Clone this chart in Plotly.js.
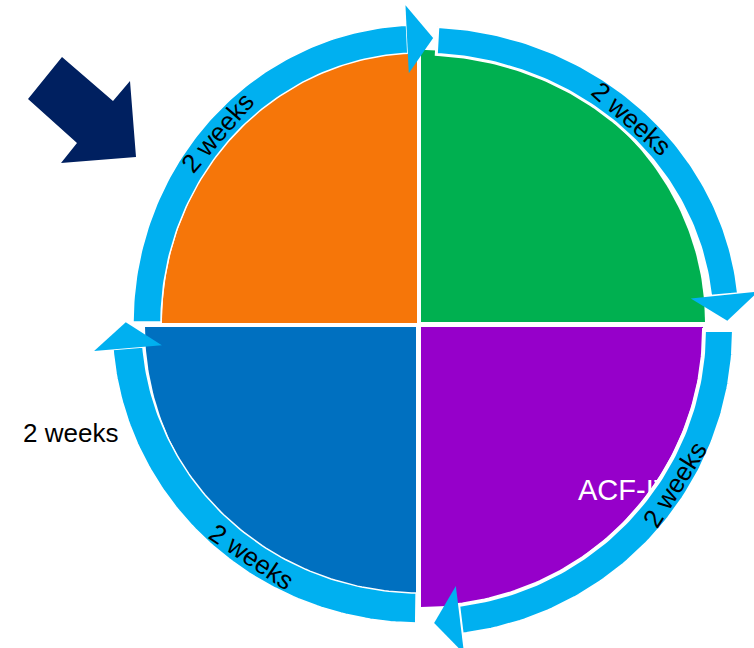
<!DOCTYPE html>
<html>
<head>
<meta charset="utf-8">
<script src="https://cdn.plot.ly/plotly-3.0.1.min.js"></script>
<style>html,body{margin:0;padding:0;background:#fff;}#chart{width:754px;height:648px;}</style>
</head>
<body>
<div id="chart"></div>
<script>
// ---------- data ----------
const phaseNames = ['Phase 1', 'Phase 2', 'Phase 3', 'Phase 4'];
const durationWeeks = [2, 2, 2, 2];
const durationLabels = durationWeeks.map(w => w + ' weeks');
const sideLabel = '2 weeks';
const innerLabel = 'ACF-IT';

// ---------- styles ----------
const quadColors = ['#F67609', '#00B050', '#9600CA', '#0070C0'];
const ringColor = '#00B0F0';
const navy = '#002060';
const FONT = 'Liberation Sans, Arial, sans-serif';

// ---------- geometry (pixel space, y down; angles clockwise from +x) ----------
const startAngle = 180;
const quadGeom = [
  {cx: 417, cy: 323, rx: 255, ry: 271},
  {cx: 421, cy: 322, rx: 284, ry: 272},
  {cx: 421, cy: 327, rx: 282, ry: 280},
  {cx: 416, cy: 327, rx: 271, ry: 271}
];
const ringGeom = [
  {cx: 420, cy: 323, rx: 273, ry: 284, hw: 14, gapStart: 0.2, gapEnd: 2.7, textAt: 0.48, outline: 1.5},
  {cx: 420, cy: 322, rx: 306, ry: 282, hw: 14, gapStart: 3.2, gapEnd: 5.5, textAt: 0.5, outline: 3},
  {cx: 424, cy: 330, rx: 295, ry: 292, hw: 15, gapStart: 0.0, gapEnd: 7.0, textAt: 0.385, outline: 4},
  {cx: 420, cy: 325, rx: 293, ry: 283, hw: 15, gapStart: 0.8, gapEnd: 4.7, textAt: 0.405, outline: 1.5}
];
const headHalf = 34, headLen = 26;

const rad = d => d * Math.PI / 180;
function arc(cx, cy, rx, ry, t0, t1, n) {
  const xs = [], ys = [];
  for (let i = 0; i <= n; i++) {
    const t = rad(t0 + (t1 - t0) * i / n);
    xs.push(cx + rx * Math.cos(t));
    ys.push(cy + ry * Math.sin(t));
  }
  return [xs, ys];
}

const total = durationWeeks.reduce((a, b) => a + b, 0);
const spans = [];
let acc = startAngle;
durationWeeks.forEach(w => { const s = w / total * 360; spans.push([acc, acc + s]); acc += s; });

const traces = [];
// quadrants
spans.forEach((sp, i) => {
  const g = quadGeom[i];
  const [xs, ys] = arc(g.cx, g.cy, g.rx, g.ry, sp[0], sp[1], 90);
  traces.push({
    type: 'scatter', mode: 'lines', x: [g.cx, ...xs, g.cx], y: [g.cy, ...ys, g.cy],
    fill: 'toself', fillcolor: quadColors[i], line: {width: 0, color: quadColors[i]},
    hoverinfo: 'skip', name: phaseNames[i]
  });
});

// inner label (beneath the ring)
traces.push({
  type: 'scatter', mode: 'text', x: [578], y: [493], text: [innerLabel],
  textposition: 'middle right', textfont: {family: FONT, size: 29, color: '#ffffff'},
  hoverinfo: 'skip'
});

const annotations = [];
const heads = [];
spans.forEach((sp, i) => {
  const g = ringGeom[i];
  const t0 = sp[0] + g.gapStart, t1 = sp[1] - g.gapEnd;
  const [ox, oy] = arc(g.cx, g.cy, g.rx + g.hw, g.ry + g.hw, t0, t1, 90);
  const [ix, iy] = arc(g.cx, g.cy, g.rx - g.hw, g.ry - g.hw, t1, t0, 90);
  traces.push({
    type: 'scatter', mode: 'lines', x: [...ox, ...ix, ox[0]], y: [...oy, ...iy, oy[0]],
    fill: 'toself', fillcolor: ringColor, line: {width: g.outline, color: '#ffffff'}, hoverinfo: 'skip'
  });
  // arrow head at the end of the arc
  const te = rad(t1);
  const bx = g.cx + g.rx * Math.cos(te), by = g.cy + g.ry * Math.sin(te);
  let dx = -g.rx * Math.sin(te), dy = g.ry * Math.cos(te);
  const L = Math.hypot(dx, dy); dx /= L; dy /= L;
  const nx = dy, ny = -dx;
  heads.push({
    type: 'scatter', mode: 'lines',
    x: [bx + nx * headHalf, bx + dx * headLen, bx - nx * headHalf, bx + nx * headHalf],
    y: [by + ny * headHalf, by + dy * headLen, by - ny * headHalf, by + ny * headHalf],
    fill: 'toself', fillcolor: ringColor, line: {width: 0, color: ringColor}, hoverinfo: 'skip'
  });
  // label along the arc
  const tt = rad(t0 + (t1 - t0) * g.textAt);
  const tx = g.cx + g.rx * Math.cos(tt), ty = g.cy + g.ry * Math.sin(tt);
  let ang = Math.atan2(g.ry * Math.cos(tt), -g.rx * Math.sin(tt)) * 180 / Math.PI;
  if (ang > 90) ang -= 180;
  if (ang <= -90) ang += 180;
  annotations.push({
    x: tx, y: ty, xref: 'x', yref: 'y', text: durationLabels[i], showarrow: false,
    textangle: ang, font: {family: FONT, size: 26, color: '#000000'}
  });
});
traces.push(...heads);

annotations.push({
  x: 21, y: 433, xref: 'x', yref: 'y', xanchor: 'left', yanchor: 'middle',
  text: sideLabel, showarrow: false, font: {family: FONT, size: 26, color: '#000000'}
});

const navyArrow = 'M62,57 L113,101 L130,81 L136,157 L61,163 L77,143 L28,99 Z';

const layout = {
  width: 754, height: 648,
  margin: {l: 0, r: 0, t: 0, b: 0, pad: 0},
  paper_bgcolor: '#ffffff', plot_bgcolor: '#ffffff',
  showlegend: false,
  xaxis: {range: [0, 754], visible: false, fixedrange: true},
  yaxis: {range: [648, 0], visible: false, fixedrange: true},
  annotations: annotations,
  shapes: [{type: 'path', xref: 'x', yref: 'y', path: navyArrow, fillcolor: navy, line: {width: 0}, layer: 'above'}]
};

Plotly.newPlot('chart', traces, layout, {displayModeBar: false, staticPlot: true});
</script>
</body>
</html>
